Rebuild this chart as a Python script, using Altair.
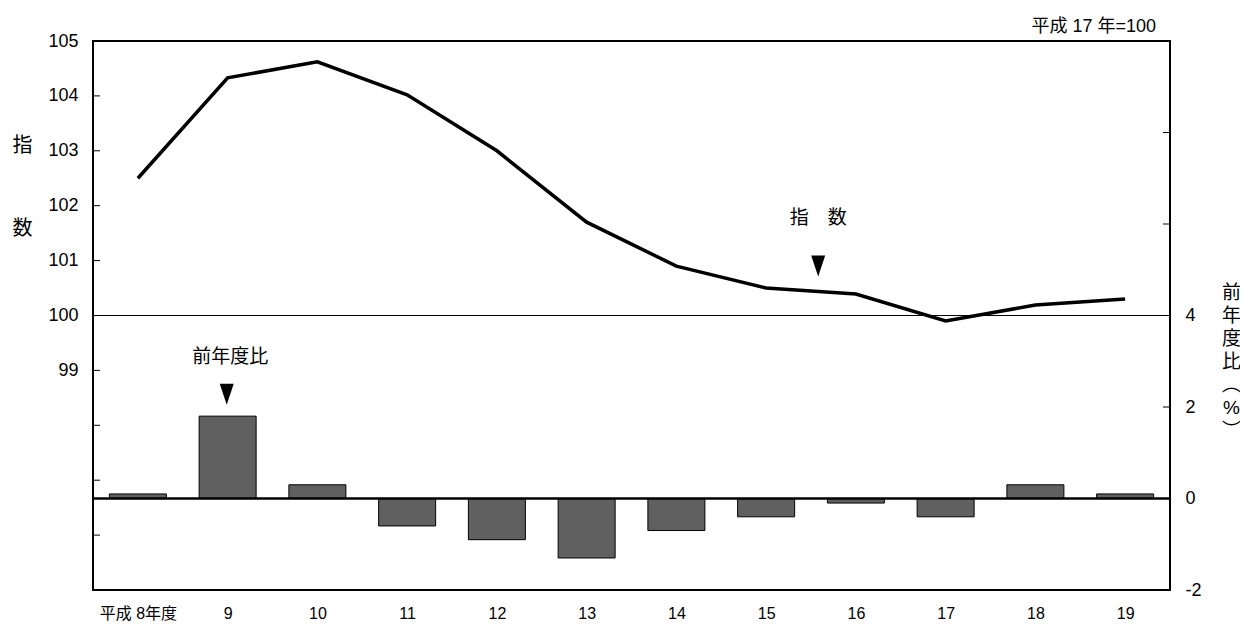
import json
import altair as alt
import pandas as pd

FONT = "Liberation Sans, Arial, Noto Sans CJK JP"

# ---- data ----
categories = ["平成 8年度", "9", "10", "11", "12", "13", "14", "15", "16", "17", "18", "19"]
index_values = [102.5, 104.33, 104.62, 104.02, 103.0, 101.7, 100.9, 100.5, 100.39, 99.9, 100.19, 100.3]
yoy_values = [0.1, 1.8, 0.3, -0.6, -0.9, -1.3, -0.7, -0.4, -0.1, -0.4, 0.3, 0.1]
left_ticks = [96, 97, 98, 99, 101, 102, 103, 104]
right_ticks = [2, 6, 8]

# annotations (data coordinates)
idx_label = ["指　数"]
idx_label_pos = [7.58]
idx_label_val = [101.78]
idx_arrow_pos = [7.58]
idx_arrow_val = [100.9]
yoy_label = ["前年度比"]
yoy_label_pos = [1.03]
yoy_label_val = [3.09]
yoy_arrow_pos = [0.99]
yoy_arrow_val = [2.28]

W, H = 1077, 549

df = pd.DataFrame({"pos": list(range(len(categories))), "index": index_values, "yoy": yoy_values})

scX = alt.Scale(domain=[-0.5, len(categories) - 0.5], nice=False, zero=False, padding=0)
axX = alt.Axis(values=list(range(len(categories))),
               labelExpr=json.dumps(categories, ensure_ascii=False) + "[datum.value]",
               ticks=False, domain=False, grid=False, labelFontSize=16, labelPadding=15,
               labelFlush=False, labelOverlap=False, title=None, labelColor="black")

scL = alt.Scale(domain=[95, 105], nice=False, zero=False)
axL = alt.Axis(orient="left", values=list(range(95, 106)),
               labelExpr="datum.value >= 99 ? toString(datum.value) : ''",
               ticks=False, domain=False, grid=False, labelFontSize=18, labelPadding=15,
               labelFlush=False, labelOverlap=False, labelColor="black",
               title=["指", "数"], titleAngle=0, titleX=-71, titleY=94, titleAlign="center",
               titleBaseline="top", titleLineHeight=83, titleFontSize=20, titleFontWeight="normal",
               titleColor="black")

scR = alt.Scale(domain=[-2, 10], nice=False, zero=False)
axR = alt.Axis(orient="right", values=list(range(-2, 11, 2)),
               labelExpr="datum.value <= 4 ? toString(datum.value) : ''",
               ticks=False, domain=False, grid=False, labelFontSize=18, labelPadding=15,
               labelFlush=False, labelOverlap=False, labelColor="black",
               title=["前", "年", "度", "比", "︵", "%", "︶"], titleAngle=0, titleX=61, titleY=242,
               titleAlign="center", titleBaseline="top", titleLineHeight=23, titleFontSize=19,
               titleFontWeight="normal", titleColor="black")

X = alt.X("pos:Q", scale=scX, axis=axX)

# ---- left (index) layers ----
rule100 = alt.Chart(pd.DataFrame({"v": [100]})).mark_rule(color="black", strokeWidth=1).encode(
    y=alt.Y("v:Q", scale=scL, axis=axL))
ticksL = alt.Chart(pd.DataFrame({"v": left_ticks})).mark_rule(color="black", strokeWidth=1).encode(
    y=alt.Y("v:Q", scale=scL, axis=axL), x=alt.value(0), x2=alt.value(7))
line = alt.Chart(df).mark_line(color="black", strokeWidth=3.5).encode(
    x=X, y=alt.Y("index:Q", scale=scL, axis=axL))
idx_text = alt.Chart(pd.DataFrame({"pos": idx_label_pos, "v": idx_label_val, "t": idx_label})).mark_text(
    fontSize=19, font=FONT, color="black").encode(
    x=X, y=alt.Y("v:Q", scale=scL, axis=axL), text="t:N")
tri = "M-1,-1.5L1,-1.5L0,1.5Z"
idx_arrow = alt.Chart(pd.DataFrame({"pos": idx_arrow_pos, "v": idx_arrow_val})).mark_point(
    shape=tri, size=196, filled=True, color="black", opacity=1).encode(
    x=X, y=alt.Y("v:Q", scale=scL, axis=axL))

left = alt.layer(rule100, ticksL, line, idx_text, idx_arrow)

# ---- right (yoy) layers ----
bars = alt.Chart(df).mark_bar(width=57, fill="#606060", stroke="black", strokeWidth=1).encode(
    x=X, y=alt.Y("yoy:Q", scale=scR, axis=axR))
zero = alt.Chart(pd.DataFrame({"v": [0]})).mark_rule(color="black", strokeWidth=2.5).encode(
    y=alt.Y("v:Q", scale=scR, axis=axR))
ticksR = alt.Chart(pd.DataFrame({"v": right_ticks})).mark_rule(color="black", strokeWidth=1).encode(
    y=alt.Y("v:Q", scale=scR, axis=axR), x=alt.value(W - 7), x2=alt.value(W))
yoy_text = alt.Chart(pd.DataFrame({"pos": yoy_label_pos, "v": yoy_label_val, "t": yoy_label})).mark_text(
    fontSize=19, font=FONT, color="black").encode(
    x=X, y=alt.Y("v:Q", scale=scR, axis=axR), text="t:N")
yoy_arrow = alt.Chart(pd.DataFrame({"pos": yoy_arrow_pos, "v": yoy_arrow_val})).mark_point(
    shape=tri, size=196, filled=True, color="black", opacity=1).encode(
    x=X, y=alt.Y("v:Q", scale=scR, axis=axR))

right = alt.layer(bars, zero, ticksR, yoy_text, yoy_arrow)

chart = alt.layer(left, right).resolve_scale(y="independent").properties(
    width=W, height=H,
    autosize=alt.AutoSizeParams(type="none"),
    padding={"left": 85, "top": 33, "right": 70, "bottom": 32},
    background="white",
    title=alt.TitleParams("平成 17 年=100", anchor="end", frame="group", fontSize=18,
                          fontWeight="normal", font=FONT, dx=-14, dy=13, offset=9, color="black"),
).configure_view(stroke="black", strokeWidth=2).configure_axis(
    labelFont=FONT, titleFont=FONT).configure_text(font=FONT)

chart.save("out.html", embed_options={"renderer": "svg", "actions": False})
